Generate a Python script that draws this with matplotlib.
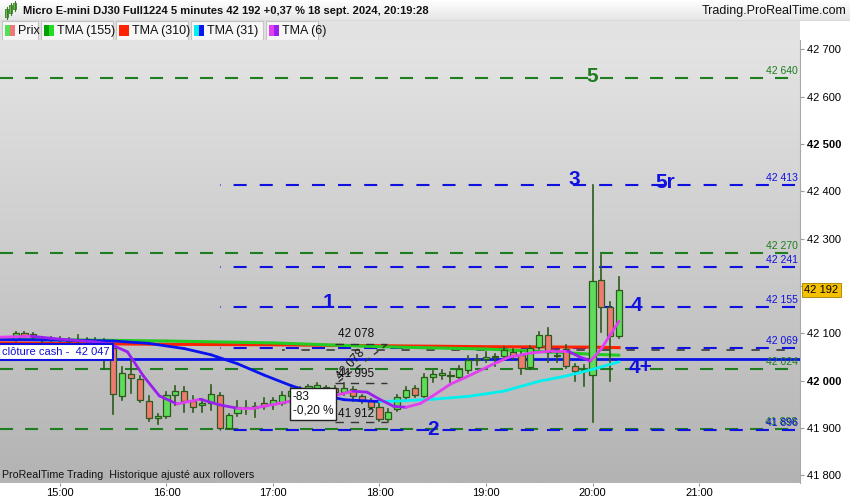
import numpy as np
import matplotlib.pyplot as plt
from matplotlib.colors import LinearSegmentedColormap
from matplotlib.patches import Rectangle
from matplotlib.ticker import FuncFormatter

plt.rcParams['font.family'] = ['Liberation Sans', 'DejaVu Sans']
plt.rcParams['lines.scale_dashes'] = False

# 5 minute candles, 14:35 -> 20:15 (minutes since midnight)
first_candle = 14 * 60 + 35
opens = [42088, 42100, 42099, 42088, 42086, 42089, 42087, 42085, 42088, 42085,
         42080, 42070, 41968, 42014, 42004, 41957, 41921, 41925, 41970, 41978,
         41957, 41949, 41953, 41970, 41901, 41932, 41944, 41942, 41953, 41950,
         41953, 41968, 41978, 41978, 41981, 41986, 41984, 41976, 41982, 41967,
         41957, 41944, 41919, 41940, 41965, 41985, 41968, 42008, 42012, 42010,
         42008, 42023, 42044, 42046, 42050, 42052, 42061, 42054, 42029, 42071,
         42097, 42054, 42067, 42031, 42020, 42012, 42213, 42156, 42094]
highs = [42103, 42102, 42101, 42092, 42093, 42092, 42090, 42097, 42091, 42090,
         42088, 42078, 42029, 42044, 42010, 41968, 41929, 41976, 41989, 41987,
         41968, 41961, 41991, 41975, 41930, 41957, 41957, 41952, 41963, 41963,
         41976, 41985, 41986, 41992, 41996, 41990, 41988, 41995, 41986, 41970,
         41962, 41960, 41941, 41970, 41986, 41990, 42014, 42020, 42022, 42018,
         42031, 42052, 42054, 42061, 42056, 42071, 42067, 42061, 42073, 42103,
         42111, 42063, 42075, 42035, 42033, 42413, 42266, 42166, 42219]
lows = [42085, 42092, 42088, 42082, 42083, 42084, 42080, 42080, 42078, 42076,
        42025, 41930, 41959, 41974, 41955, 41915, 41908, 41922, 41949, 41934,
        41934, 41934, 41938, 41898, 41898, 41925, 41930, 41923, 41940, 41940,
        41949, 41962, 41968, 41974, 41978, 41975, 41972, 41970, 41957, 41952,
        41940, 41915, 41912, 41936, 41960, 41965, 41965, 41997, 42004, 41997,
        42005, 42016, 42033, 42040, 42031, 42044, 42046, 42014, 42025, 42067,
        42040, 42040, 42027, 42000, 41989, 41913, 42103, 41999, 42090]
closes = [42100, 42094, 42092, 42086, 42089, 42087, 42085, 42088, 42085, 42082,
          42046, 41972, 42016, 42006, 41959, 41921, 41926, 41970, 41978, 41957,
          41944, 41953, 41972, 41901, 41927, 41944, 41945, 41946, 41946, 41959,
          41970, 41978, 41975, 41988, 41992, 41980, 41977, 41984, 41967, 41957,
          41944, 41920, 41934, 41966, 41981, 41970, 42008, 42014, 42016, 42011,
          42025, 42044, 42045, 42050, 42053, 42065, 42052, 42027, 42069, 42097,
          42061, 42053, 42031, 42020, 42022, 42211, 42156, 42094, 42192]

# moving averages
tma155_t = [865, 960, 1020, 1080, 1140, 1170, 1200, 1215]
tma155_v = [42088, 42084, 42080, 42072, 42067, 42062, 42056, 42054]
tma310_t = [865, 960, 1020, 1080, 1140, 1200, 1215]
tma310_v = [42080, 42077, 42076, 42074, 42072, 42071, 42070]
tma31_t = [865, 900, 930, 950, 970, 985, 1000, 1015, 1030, 1045, 1060, 1080,
           1095, 1110, 1130, 1150, 1170, 1185, 1200, 1215]
tma31_v = [42087, 42086, 42084, 42079, 42068, 42055, 42036, 42012, 41990, 41972,
           41960, 41956, 41958, 41961, 41967, 41978, 41999, 42010, 42024, 42040]
tma6_t = [865, 884, 900, 920, 928, 938, 947, 956, 966, 979, 990, 1000, 1009,
          1022, 1030, 1045, 1054, 1065, 1073, 1080, 1088, 1095, 1103, 1110,
          1120, 1129, 1144, 1153, 1166, 1178, 1186, 1193, 1199, 1205, 1215]
tma6_v = [42092, 42094, 42088, 42082, 42078, 42061, 42010, 41968, 41951, 41961,
          41949, 41942, 41942, 41951, 41957, 41962, 41968, 41978, 41976, 41961,
          41946, 41944, 41952, 41968, 41993, 42008, 42035, 42050, 42059, 42063,
          42063, 42050, 42042, 42068, 42126]

# drawn levels
green_levels = [42640, 42270, 42024, 41898]
blue_levels = [42413, 42241, 42155, 42069, 41896]
cash_close = 42047
level_tags = [('5', 1200, 42642, '#1e7d1e'), ('3', 1190, 42425, '#1010e0'),
              ('5r', 1241, 42418, '#1010e0'), ('1', 1051, 42166, '#1010e0'),
              ('4', 1225, 42160, '#1010e0'), ('4+', 1227, 42027, '#1010e0'),
              ('2', 1110, 41896, '#1010e0')]
right_tags = [('42 640', 42640, '#1e7d1e'), ('42 413', 42413, '#1010e0'),
              ('42 270', 42270, '#1e7d1e'), ('42 241', 42241, '#1010e0'),
              ('42 155', 42155, '#1010e0'), ('42 069', 42069, '#1010e0'),
              ('42 024', 42024, '#1e7d1e'), ('41 898', 41898, '#1e7d1e'),
              ('41 896', 41896, '#1010e0')]

W, H = 850, 500
XMIN, XMAX = 866.2, 1316.9
YMIN, YMAX = 41784, 42720

fig = plt.figure(figsize=(W / 100, H / 100), dpi=100, facecolor='white')

# --- header bar
hax = fig.add_axes([0, 1 - 21 / H, 1, 21 / H])
hax.imshow(np.linspace(0, 1, 64).reshape(-1, 1), aspect='auto', extent=(0, W, 21, 0),
           cmap=LinearSegmentedColormap.from_list('hd', ['#ffffff', '#e4e4e4']))
hax.set_xlim(0, W)
hax.set_ylim(21, 0)
hax.axis('off')
hax.plot([0, W], [20.5, 20.5], color='#b0b0b0', lw=1)
for cx, y0, y1 in [(7, 9, 17), (11, 5, 13), (15, 3, 9)]:
    hax.plot([cx, cx], [y0 - 2, y1 + 2], color='#3a7a2a', lw=0.8)
    hax.add_patch(Rectangle((cx - 1.5, y0), 3, y1 - y0, fc='#66cc44', ec='#3a7a2a', lw=0.6))
hax.text(23, 11, 'Micro E-mini DJ30 Full1224 5 minutes 42 192 +0,37 % 18 sept. 2024, 20:19:28',
         fontsize=8, fontweight='bold', va='center', ha='left', color='#111111')
hax.text(846, 11, 'Trading.ProRealTime.com', fontsize=9, va='center', ha='right', color='#111111')

# --- legend bar
lax = fig.add_axes([0, 1 - 40 / H, 800 / W, 19 / H])
lax.set_xlim(0, 800)
lax.set_ylim(19, 0)
lax.axis('off')
lax.add_patch(Rectangle((0, 0), 800, 19, fc='#e2e2e2', ec='none'))
legend_items = [(2, 38, 'Prix', '#55dd55', '#ee7777'),
                (41, 113, 'TMA (155)', '#00a000', '#22dd22'),
                (116, 188, 'TMA (310)', '#ff2200', '#ff2200'),
                (191, 263, 'TMA (31)', '#00f0f0', '#0a14f0'),
                (266, 318, 'TMA (6)', '#e040f0', '#9a20f0')]
for x0, x1, label, c1, c2 in legend_items:
    lax.add_patch(Rectangle((x0, 0.5), x1 - x0, 18, fc='#f6f6f6', ec='#c4c4c4', lw=0.8))
    lax.add_patch(Rectangle((x0 + 3, 4), 5, 11, fc=c1, ec='none'))
    lax.add_patch(Rectangle((x0 + 8, 4), 5, 11, fc=c2, ec='none'))
    lax.text(x0 + 16, 10, label, fontsize=9, va='center', ha='left', color='#111111')

# --- main chart
ax = fig.add_axes([0, 17 / H, 800 / W, 443 / H])
ax.set_xlim(XMIN, XMAX)
ax.set_ylim(YMIN, YMAX)
bg = LinearSegmentedColormap.from_list('bg', ['#e4e4e4', '#b3b3b3'])
ax.imshow(np.linspace(0, 1, 256).reshape(-1, 1), aspect='auto', cmap=bg,
          extent=(XMIN, XMAX, YMIN, YMAX), origin='upper', zorder=0)

green_dash = (0, (9.4, 8.6))
blue_dash = (9.0, (9.4, 9.4))
for p in green_levels:
    ax.plot([XMIN, XMAX], [p, p], color='#1e7d1e', lw=1.5, ls=green_dash, zorder=2)
for p in blue_levels:
    ax.plot([990, XMAX], [p, p], color='#1010e0', lw=1.5, ls=blue_dash, zorder=2)
ax.plot([1025, XMAX], [42066, 42066], color='#444444', lw=1.3, ls=(4, (6, 12)), zorder=2)
ax.axhline(cash_close, color='#0a14e6', lw=2, zorder=4)


def two_tone(t, v, up, down, lw, z):
    for i in range(len(t) - 1):
        c = up if v[i + 1] >= v[i] else down
        ax.plot(t[i:i + 2], v[i:i + 2], color=c, lw=lw, zorder=z, solid_capstyle='round')


ax.plot(tma310_t, tma310_v, color='#ff2200', lw=2.2, zorder=3)
two_tone(tma155_t, tma155_v, '#22dd22', '#22cc22', 2.2, 3)

# candles
times = first_candle + 5 * np.arange(len(opens))
edge = '#2c5a1a'
for t, o, h, l, c in zip(times, opens, highs, lows, closes):
    ax.plot([t, t], [l, h], color=edge, lw=1.2, zorder=5)
    fc = '#5fdc5a' if c >= o else '#ef7a72'
    ax.add_patch(Rectangle((t - 1.75, min(o, c)), 3.5, max(abs(c - o), 1.5),
                           fc=fc, ec=edge, lw=0.9, zorder=6))

two_tone(tma31_t, tma31_v, '#00f0f0', '#0a14f0', 2, 7)
two_tone(tma6_t, tma6_v, '#e040f0', '#9a20f0', 2, 8)

# level numbers
for txt, t, p, col in level_tags:
    ax.text(t, p, txt, color=col, fontsize=15, fontweight='bold', ha='center', va='center', zorder=9)
for txt, p, col in right_tags:
    ax.annotate(txt, (1315.5, p), xytext=(0, 1.5), textcoords='offset points',
                ha='right', va='bottom', color=col, fontsize=7.5, zorder=9)

# cash close label
ax.text(867.5, 42061, 'clôture cash -  42 047', color='#1010d0', fontsize=8, ha='left',
        va='center', zorder=10,
        bbox=dict(boxstyle='square,pad=0.3', fc='white', ec='#1010e0', lw=1.5))

# measurement drawing
ax.plot([1055, 1084], [42078, 42078], color='#333333', lw=1, ls=(0, (6, 5)), zorder=9)
ax.plot([1055, 1084], [41995, 41995], color='#333333', lw=1, ls=(0, (6, 5)), zorder=9)
ax.plot([1055, 1084], [41912, 41912], color='#333333', lw=1, ls=(0, (6, 5)), zorder=9)
ax.plot([1057, 1084], [41998, 42076], color='#333333', lw=1, ls=(0, (4, 4)), zorder=9)
ax.text(1056.5, 42086, '42 078', fontsize=8.5, color='#111111', ha='left', va='bottom', zorder=9)
ax.text(1064, 42035, '42 078', fontsize=8.5, color='#111111', ha='center', va='center',
        rotation=48, zorder=9)
ax.text(1056.5, 42002, '41 995', fontsize=8.5, color='#111111', ha='left', va='bottom', zorder=9)
ax.text(1056.5, 41918, '41 912', fontsize=8.5, color='#111111', ha='left', va='bottom', zorder=9)
ax.text(1031, 41978, '-83\n-0,20 %', fontsize=8.5, color='#111111', ha='left', va='top',
        linespacing=1.2, zorder=10,
        bbox=dict(boxstyle='square,pad=0.25', fc='white', ec='#222222', lw=1))

ax.text(867.3, 41790, 'ProRealTime Trading  Historique ajusté aux rollovers', fontsize=7.7,
        color='#111111', ha='left', va='bottom', zorder=9)

# axes
for s in ['top', 'left', 'bottom']:
    ax.spines[s].set_visible(False)
ax.spines['right'].set_color('#a8a8a8')
ax.yaxis.tick_right()
ax.set_yticks(np.arange(41800, 42701, 100))
ax.yaxis.set_major_formatter(FuncFormatter(lambda v, _: f'{int(v):,}'.replace(',', ' ')))
ax.tick_params(axis='y', length=3, width=0.8, color='#999999', labelsize=8, pad=2)
fig.canvas.draw()
for lab in ax.get_yticklabels():
    if lab.get_text() in ('42 500', '42 000'):
        lab.set_fontweight('bold')
    if lab.get_text() == '42 200':
        # hidden behind the last price box
        lab.set_visible(False)
ax.set_xticks(np.arange(900, 1261, 60))
ax.set_xticklabels([f'{h}:00' for h in range(15, 22)])
ax.tick_params(axis='x', length=2.5, width=0.8, color='#999999', labelsize=8, pad=1)

# last price box
ax.annotate('42 192', (1.0, closes[-1]), xycoords=('axes fraction', 'data'),
            xytext=(3, 0), textcoords='offset points', fontsize=8, va='center', ha='left',
            annotation_clip=False, zorder=12,
            bbox=dict(boxstyle='square,pad=0.2', fc='#f5c000', ec='#a08000', lw=0.6))

fig.savefig('out.png', dpi=100)
